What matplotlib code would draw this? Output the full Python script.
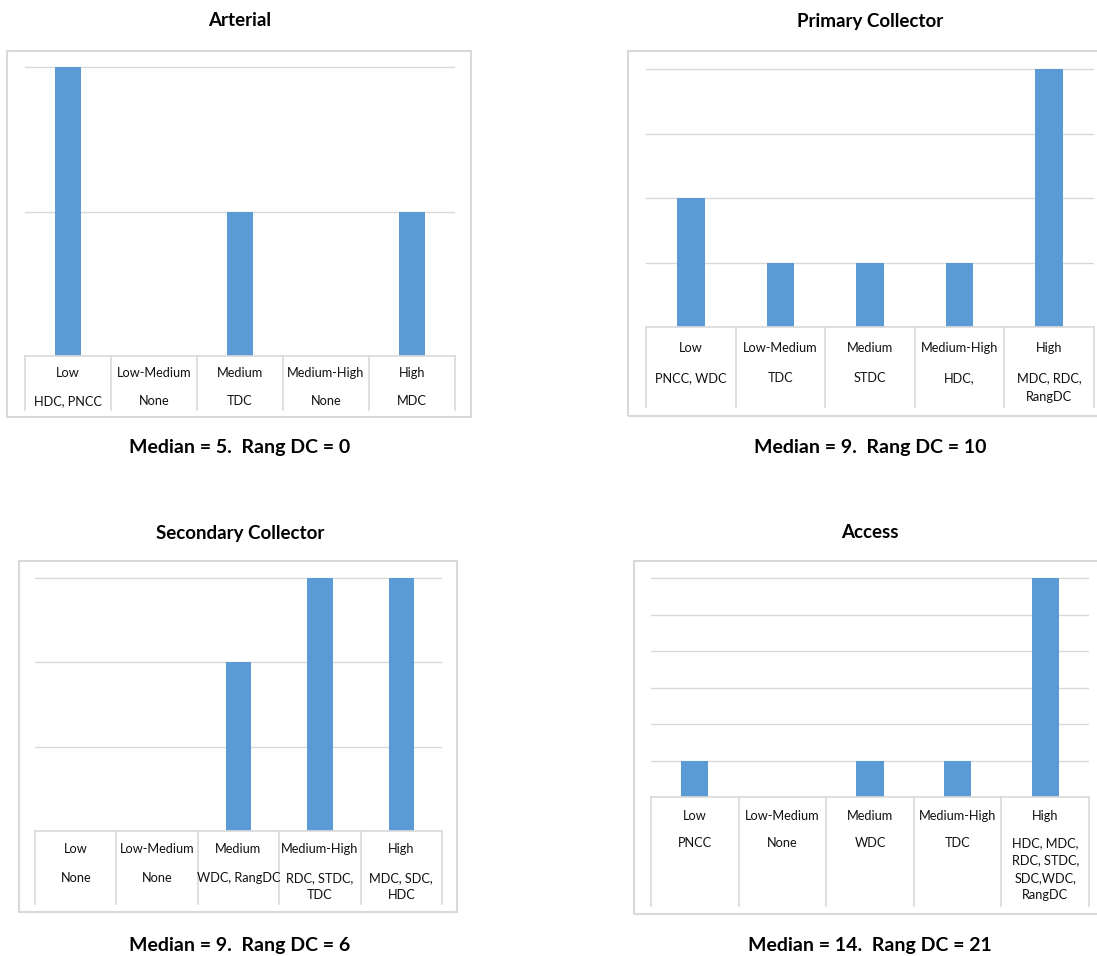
import matplotlib
matplotlib.use("Agg")
import matplotlib.pyplot as plt
from matplotlib.patches import Rectangle

plt.rcParams['font.family'] = ['Lato', 'DejaVu Sans']

W, H = 1097, 956

categories = ["Low", "Low-Medium", "Medium", "Medium-High", "High"]

arterial_title = "Arterial"
arterial_values = [2, 0, 1, 0, 1]
arterial_dcs = ["HDC, PNCC", "None", "TDC", "None", "MDC"]
arterial_note = "Median = 5.  Rang DC = 0"

primary_title = "Primary Collector"
primary_values = [2, 1, 1, 1, 4]
primary_dcs = ["PNCC, WDC", "TDC", "STDC", "HDC,", "MDC, RDC,\nRangDC"]
primary_note = "Median = 9.  Rang DC = 10"

secondary_title = "Secondary Collector"
secondary_values = [0, 0, 2, 3, 3]
secondary_dcs = ["None", "None", "WDC, RangDC", "RDC, STDC,\nTDC", "MDC, SDC,\nHDC"]
secondary_note = "Median = 9.  Rang DC = 6"

access_title = "Access"
access_values = [1, 0, 1, 1, 6]
access_dcs = ["PNCC", "None", "WDC", "TDC", "HDC, MDC,\nRDC, STDC,\nSDC,WDC,\nRangDC"]
access_note = "Median = 14.  Rang DC = 21"

BAR = "#5b9bd5"
GRID = "#d9d9d9"

fig = plt.figure(figsize=(W / 100, H / 100), dpi=100)


def fx(x):
    return x / W


def fy(y):
    return 1 - y / H


def panel(title, values, dcs, note, frame, plot_x, top_grid, ymax, baseline,
          tbl_bottom, row1, row2, lsp, cx, title_y, note_y):
    fl, ft, fr, fb = frame
    fig.patches.append(Rectangle((fx(fl), fy(fb)), fx(fr - fl), (fb - ft) / H,
                                 transform=fig.transFigure, fill=False,
                                 edgecolor=GRID, linewidth=1.5, zorder=0))
    x0, x1 = plot_x
    ax_top = ft + 4
    ax = fig.add_axes([fx(x0), fy(baseline), fx(x1 - x0), (baseline - ax_top) / H])
    ytop = ymax * (baseline - ax_top) / (baseline - top_grid)
    n = len(categories)
    ax.bar(range(n), values, width=0.31, color=BAR, zorder=3)
    ax.set_xlim(-0.5, n - 0.5)
    ax.set_ylim(0, ytop)
    ax.set_yticks(range(1, ymax + 1))
    ax.yaxis.grid(True, color=GRID, linewidth=1.0, zorder=0)
    ax.set_axisbelow(True)
    ax.tick_params(left=False, bottom=False, labelleft=False, labelbottom=False)
    for s in ax.spines.values():
        s.set_visible(False)
    ax.patch.set_alpha(0)

    tx = fig.add_axes([fx(x0), fy(tbl_bottom), fx(x1 - x0), (tbl_bottom - baseline) / H])
    tx.set_xlim(-0.5, n - 0.5)
    tx.set_ylim(tbl_bottom, baseline)
    tx.axis("off")
    tx.axhline(baseline, color=GRID, linewidth=1.2, clip_on=False)
    for b in range(n + 1):
        tx.axvline(b - 0.5, color=GRID, linewidth=1.2, clip_on=False)
    for i, (c, d) in enumerate(zip(categories, dcs)):
        tx.text(i, row1, c, ha="center", va="center", fontsize=9.2, color="#111111")
        for k, line in enumerate(d.split("\n")):
            tx.text(i, row2 + k * lsp, line, ha="center", va="center",
                    fontsize=9.2, color="#111111")

    fig.text(fx(cx), fy(title_y), title, ha="center", va="center",
             fontsize=13.5, fontweight="bold", color="black")
    fig.text(fx(cx), fy(note_y), note, ha="center", va="center",
             fontsize=14, fontweight="bold", color="black")


panel(arterial_title, arterial_values, arterial_dcs, arterial_note,
      (7, 51, 471, 417), (25, 455), 67, 2, 356, 410, 373, 401, 17, 240, 20, 447)
panel(primary_title, primary_values, primary_dcs, primary_note,
      (628, 51, 1100, 416), (646, 1094), 69, 4, 327, 407, 348, 378, 19, 870, 21, 447)
panel(secondary_title, secondary_values, secondary_dcs, secondary_note,
      (19, 561, 457, 912), (35, 442), 578, 3, 831, 904, 849, 878, 16.7, 240, 533, 945)
panel(access_title, access_values, access_dcs, access_note,
      (634, 561, 1100, 914), (651, 1089), 578, 6, 797, 906, 816, 843, 17.5, 870, 533, 945)

fig.savefig("out.png", dpi=100, facecolor="white")
